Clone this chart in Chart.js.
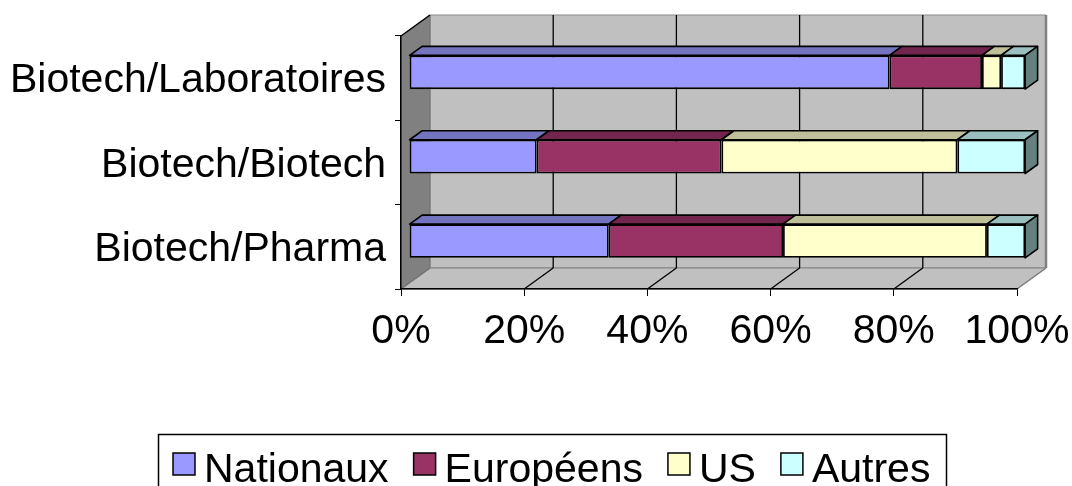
<!DOCTYPE html>
<html><head><meta charset="utf-8">
<style>html,body{margin:0;padding:0;background:#fff;overflow:hidden}#wrap{width:1072px;height:486px;position:relative}</style>
<script src="https://cdn.jsdelivr.net/npm/chart.js@4.4.1/dist/chart.umd.min.js"></script>
</head><body><div id="wrap"><canvas id="c" width="1072" height="486"></canvas></div>
<script>
// ---- data ----
const categories = ['Biotech/Laboratoires', 'Biotech/Biotech', 'Biotech/Pharma'];
const seriesNames = ['Nationaux', 'Européens', 'US', 'Autres'];
const nationaux = [78.0, 20.7, 32.4];
const europeens = [15.0, 30.0, 28.3];
const us = [3.1, 38.3, 33.1];
const autres = [3.9, 11.0, 6.2];
const xTickValues = [0, 20, 40, 60, 80, 100];
const seriesColors = ['#9999FF', '#993366', '#FFFFCC', '#CCFFFF'];

// ---- style ----
const FONT = "'Liberation Sans', Arial, sans-serif";
const FS = 41;
const DX = 29, DY = 21;          // total depth of the 3D box
const BAR_F = 0.28;              // depth of bar front face
const BAR_DX = 12.5, BAR_DY = 9; // bar thickness in depth

function shade(hex, f) {
  const n = parseInt(hex.slice(1), 16);
  const r = Math.round(((n >> 16) & 255) * f), g = Math.round(((n >> 8) & 255) * f), b = Math.round((n & 255) * f);
  return 'rgb(' + r + ',' + g + ',' + b + ')';
}
function poly(ctx, pts, fill, stroke, lw) {
  ctx.beginPath();
  ctx.moveTo(pts[0][0], pts[0][1]);
  for (let i = 1; i < pts.length; i++) ctx.lineTo(pts[i][0], pts[i][1]);
  ctx.closePath();
  if (fill) { ctx.fillStyle = fill; ctx.fill(); }
  if (stroke) { ctx.strokeStyle = stroke; ctx.lineWidth = lw || 1; ctx.stroke(); }
}
function line(ctx, x1, y1, x2, y2, color, lw) {
  ctx.beginPath(); ctx.moveTo(x1, y1); ctx.lineTo(x2, y2);
  ctx.strokeStyle = color; ctx.lineWidth = lw || 1; ctx.stroke();
}

const threeD = {
  id: 'threeD',
  beforeDraw(chart) {
    const ctx = chart.ctx, a = chart.chartArea, xs = chart.scales.x;
    const L = a.left, R = a.right, T = a.top, B = a.bottom;
    ctx.save();
    ctx.fillStyle = '#fff'; ctx.fillRect(0, 0, chart.width, chart.height);
    // back wall
    poly(ctx, [[L + DX, T - DY], [R + DX, T - DY], [R + DX, B - DY], [L + DX, B - DY]], '#c0c0c0', '#8c8c8c', 1);
    // left wall
    poly(ctx, [[L, T], [L + DX, T - DY], [L + DX, B - DY], [L, B]], '#808080', '#707070', 1);
    // floor
    poly(ctx, [[L, B], [L + DX, B - DY], [R + DX, B - DY], [R, B]], '#c0c0c0', '#808080', 1);
    // grid lines on back wall and floor
    xTickValues.forEach(v => {
      if (v === 0 || v === 100) return;
      const p = xs.getPixelForValue(v);
      line(ctx, p + DX, T - DY, p + DX, B - DY, '#000', 1.3);
      line(ctx, p + DX, B - DY, p, B, '#000', 1.3);
    });
    // edges
    line(ctx, R + DX, T - DY, R + DX, B - DY, '#808080', 2.5);
    line(ctx, R + DX, B - DY, R, B, '#808080', 1.5);
    line(ctx, L, B, L + DX, B - DY, '#707070', 1.2);
    line(ctx, L, T, L + DX, T - DY, '#000', 1.5);
    ctx.restore();
  },
  beforeDatasetsDraw(chart) {
    chart.ctx.save();
    chart.ctx.translate(BAR_F * DX, -BAR_F * DY);
  },
  afterDatasetsDraw(chart) {
    const ctx = chart.ctx;
    ctx.lineJoin = 'round';
    const n = chart.data.datasets.length;
    chart.data.datasets.forEach((ds, di) => {
      const meta = chart.getDatasetMeta(di);
      meta.data.forEach(el => {
        const p = el.getProps(['x', 'y', 'base', 'height'], true);
        const x0 = Math.min(p.base, p.x), x1 = Math.max(p.base, p.x);
        const top = p.y - p.height / 2, bot = p.y + p.height / 2;
        poly(ctx, [[x0, top], [x1, top], [x1 + BAR_DX, top - BAR_DY], [x0 + BAR_DX, top - BAR_DY]],
          shade(ds.backgroundColor, 0.75), '#000', 1.6);
        if (di === n - 1) {
          poly(ctx, [[x1, top], [x1 + BAR_DX, top - BAR_DY], [x1 + BAR_DX, bot - BAR_DY], [x1, bot]],
            shade(ds.backgroundColor, 0.5), '#000', 1.6);
        }
      });
    });
    ctx.restore();
  },
  afterDraw(chart) {
    const ctx = chart.ctx;
    ctx.save();
    ctx.font = FS + 'px ' + FONT;
    ctx.textBaseline = 'alphabetic';
    const box = 22, gap = 9, itemGap = 25, boxTop = 453, baseline = 482;
    let x = 173;
    chart.data.datasets.forEach(ds => {
      ctx.fillStyle = ds.backgroundColor;
      ctx.fillRect(x, boxTop, box, box);
      ctx.strokeStyle = '#000'; ctx.lineWidth = 1.5;
      ctx.strokeRect(x, boxTop, box, box);
      ctx.fillStyle = '#000';
      ctx.fillText(ds.label, x + box + gap, baseline);
      x += box + gap + ctx.measureText(ds.label).width + itemGap;
    });
    ctx.strokeStyle = '#000'; ctx.lineWidth = 1.5;
    ctx.strokeRect(158.5, 434.5, 788, 80);
    ctx.restore();
  }
};

const seriesData = [nationaux, europeens, us, autres];
new Chart(document.getElementById('c'), {
  type: 'bar',
  data: {
    labels: categories,
    datasets: seriesNames.map((name, i) => ({
      label: name,
      data: seriesData[i],
      backgroundColor: seriesColors[i],
      borderColor: '#000',
      borderWidth: 1.8,
      borderSkipped: false,
      categoryPercentage: 0.4,
      barPercentage: 1.0
    }))
  },
  options: {
    indexAxis: 'y',
    responsive: false,
    animation: false,
    devicePixelRatio: 1,
    layout: { padding: { top: 36, right: 55, bottom: 0, left: 0 } },
    plugins: { legend: { display: false }, tooltip: { enabled: false } },
    scales: {
      x: {
        stacked: true, min: 0, max: 100,
        afterBuildTicks(scale) { scale.ticks = xTickValues.map(v => ({ value: v })); },
        afterFit(scale) { scale.height = 197; scale.paddingLeft = 0; scale.paddingRight = 0; },
        grid: { display: true, drawOnChartArea: false, drawTicks: true, tickLength: 7, color: '#000', lineWidth: 1 },
        border: { display: true, color: '#000', width: 1.5 },
        ticks: { color: '#000', font: { family: FONT, size: FS }, padding: 11, maxRotation: 0, autoSkip: false,
          callback: v => v + '%' }
      },
      y: {
        stacked: true,
        afterFit(scale) { scale.width = 401; scale.paddingTop = 0; scale.paddingBottom = 0; },
        grid: { display: true, offset: true, drawOnChartArea: false, drawTicks: true, tickLength: 6, color: '#000', lineWidth: 1 },
        border: { display: true, color: '#000', width: 1.5 },
        ticks: { color: '#000', font: { family: FONT, size: FS }, padding: 9, labelOffset: 3, autoSkip: false }
      }
    }
  },
  plugins: [threeD]
});
</script>
</body></html>
